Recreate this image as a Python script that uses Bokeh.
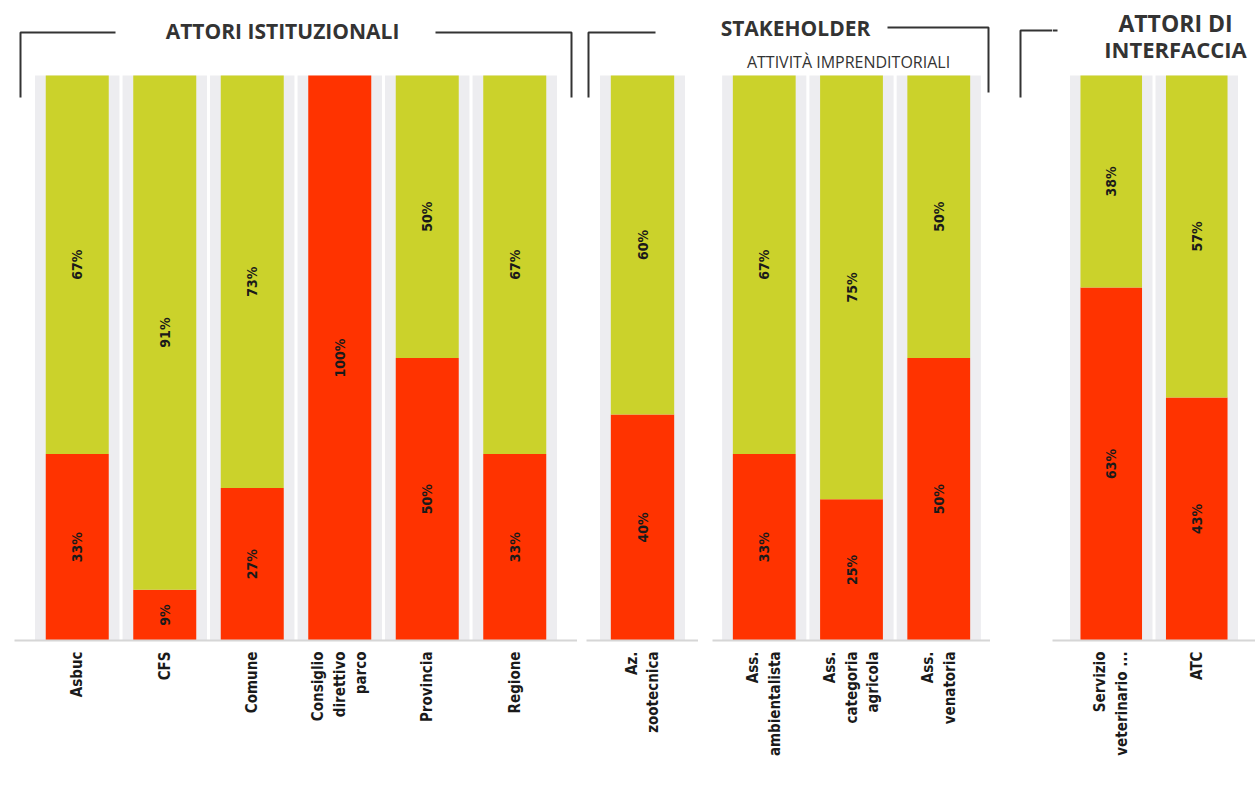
import math
from bokeh.plotting import figure
from bokeh.models import Range1d, FactorRange, Legend, LegendItem, Spacer, ColumnDataSource
from bokeh.layouts import row
from bokeh.core.properties import value
from bokeh.embed import file_html
from bokeh.resources import INLINE

# ---------------- data ----------------
ist_cats = ["Asbuc", "CFS", "Comune", "Consiglio\ndirettivo\nparco", "Provincia", "Regione"]
ist_si = [33, 9, 27, 100, 50, 33]
ist_no = [67, 91, 73, 0, 50, 67]

zoo_cats = ["Az.\nzootecnica"]
zoo_si = [40]
zoo_no = [60]

imp_cats = ["Ass.\nambientalista", "Ass.\ncategoria\nagricola", "Ass.\nvenatoria"]
imp_si = [33, 25, 50]
imp_no = [67, 75, 50]

int_cats = ["Servizio\nveterinario ...", "ATC"]
int_si = [62.5, 43]
int_no = [37.5, 57]

series_names = ["Sì", "No"]

# ---------------- style ----------------
RED = "#FF3300"
GREEN = "#CBD22B"
BAND = "#EDEDF0"
DARK = "#333333"
FRAME_H = 640
Y_TOP = 100 * FRAME_H / 565.0
NARROW = "DejaVu Sans Condensed"
HEAD = "Open Sans"


def pct(v):
    return f"{int(math.floor(v + 0.5))}%"


class Panel:
    def __init__(self, cats, si, no, frame_w, pad, px_left):
        self.cats = cats
        self.slot = frame_w / (len(cats) + 2 * pad)
        self.c0 = px_left + (pad + 0.5) * self.slot
        p = figure(x_range=FactorRange(*cats, range_padding=pad, range_padding_units="absolute"),
                   y_range=Range1d(0, Y_TOP), frame_width=frame_w, frame_height=FRAME_H,
                   output_backend="svg", toolbar_location=None, title=None,
                   y_axis_location=None, min_border_left=0, min_border_right=0,
                   min_border_top=0, min_border_bottom=0)
        p.outline_line_color = None
        p.background_fill_color = "white"
        p.border_fill_color = "white"
        p.xgrid.visible = False
        p.ygrid.visible = False
        p.extra_y_ranges = {"px": Range1d(FRAME_H, 0)}

        data = {"cat": cats, "si": si, "no": no, "full": [100] * len(cats)}
        p.vbar(x="cat", top="full", bottom=0, width=0.965, source=data,
               fill_color=BAND, line_color=None)
        self.bars = p.vbar_stack(["si", "no"], x="cat", width=0.72, source=data,
                                 fill_color=[RED, GREEN], line_color=None)

        lx, ly, lt = [], [], []
        for c, s, n in zip(cats, si, no):
            if s > 0:
                lx.append(c); ly.append(s / 2.0); lt.append(pct(s))
            if n > 0:
                lx.append(c); ly.append(s + n / 2.0); lt.append(pct(n))
        p.text(x=lx, y=ly, text=lt, angle=math.pi / 2, text_align="center",
               text_baseline="middle", text_font=value(NARROW), text_font_style="bold",
               text_font_size="14px", text_color="#1a1a1a")

        ax = p.xaxis[0]
        ax.major_label_orientation = math.pi / 2
        ax.major_tick_line_color = None
        ax.minor_tick_line_color = None
        ax.axis_line_color = "#d6d6d6"
        ax.axis_line_width = 2
        ax.major_label_standoff = 5
        ax.major_label_text_font = NARROW
        ax.major_label_text_font_style = "bold"
        ax.major_label_text_font_size = "15px"
        ax.major_label_text_color = "#1a1a1a"
        self.p = p

    def cx(self, px):
        return [self.cats[0], (px - self.c0) / self.slot]

    def line(self, xs, ys):
        src = ColumnDataSource({"x": [self.cx(v) for v in xs], "y": ys})
        self.p.line("x", "y", source=src, y_range_name="px", line_color=DARK, line_width=2)

    def text(self, x, y, t, size="21px", style="bold"):
        src = ColumnDataSource({"x": [self.cx(x)], "y": [y], "t": [t]})
        self.p.text("x", "y", text="t", source=src, y_range_name="px",
                    text_font=value(HEAD), text_font_style=style, text_font_size=size,
                    text_color=DARK, text_align="center", text_baseline="middle")


P1 = Panel(ist_cats, ist_si, ist_no, 563, 19 / 87.5, 14)
P1.line([20, 20, 115], [97, 32, 32])
P1.line([435, 571, 571], [32, 32, 97])
P1.text(282, 30, "ATTORI ISTITUZIONALI")

P2 = Panel(zoo_cats, zoo_si, zoo_no, 112, 12 / 88.0, 586)
P2.line([588, 588, 655], [97, 32, 32])

P3 = Panel(imp_cats, imp_si, imp_no, 278, 8.125 / 87.25, 712)
P3.text(795, 27, "STAKEHOLDER")
P3.line([887, 988, 988], [27, 27, 92])
P3.text(848, 61, "ATTIVITÀ IMPRENDITORIALI", size="16px", style="normal")

bf = figure(x_range=Range1d(990, 1052), y_range=Range1d(FRAME_H, 0),
            frame_width=62, frame_height=FRAME_H,
            output_backend="svg", toolbar_location=None, title=None,
            x_axis_location=None, y_axis_location=None, min_border=0)
bf.outline_line_color = None
bf.xgrid.visible = False
bf.ygrid.visible = False
bf.line([1020, 1020, 1052], [97, 30, 30], line_color=DARK, line_width=2)

P4 = Panel(int_cats, int_si, int_no, 203, 16 / 85.5, 1052)
P4.line([1052, 1057], [30, 30])
P4.text(1175, 22, "ATTORI DI", size="23px")
P4.text(1175, 48, "INTERFACCIA", size="22px")

# legend in the panel below the first panel's axis labels (raised a little)
leg = Legend(items=[LegendItem(label=series_names[0], renderers=[P1.bars[0]]),
                    LegendItem(label=series_names[1], renderers=[P1.bars[1]])],
             orientation="horizontal", location=(54, -15), glyph_width=30, glyph_height=30,
             label_standoff=10, spacing=50, padding=0, margin=0, border_line_color=None,
             background_fill_alpha=0, label_text_font="Liberation Sans",
             label_text_font_size="21px", label_text_color="#222222")
P1.p.add_layout(leg, "below")

layout = row(Spacer(width=14), P1.p, Spacer(width=9), P2.p, Spacer(width=14), P3.p, bf, P4.p)

open("out.html", "w").write(file_html(layout, INLINE))
